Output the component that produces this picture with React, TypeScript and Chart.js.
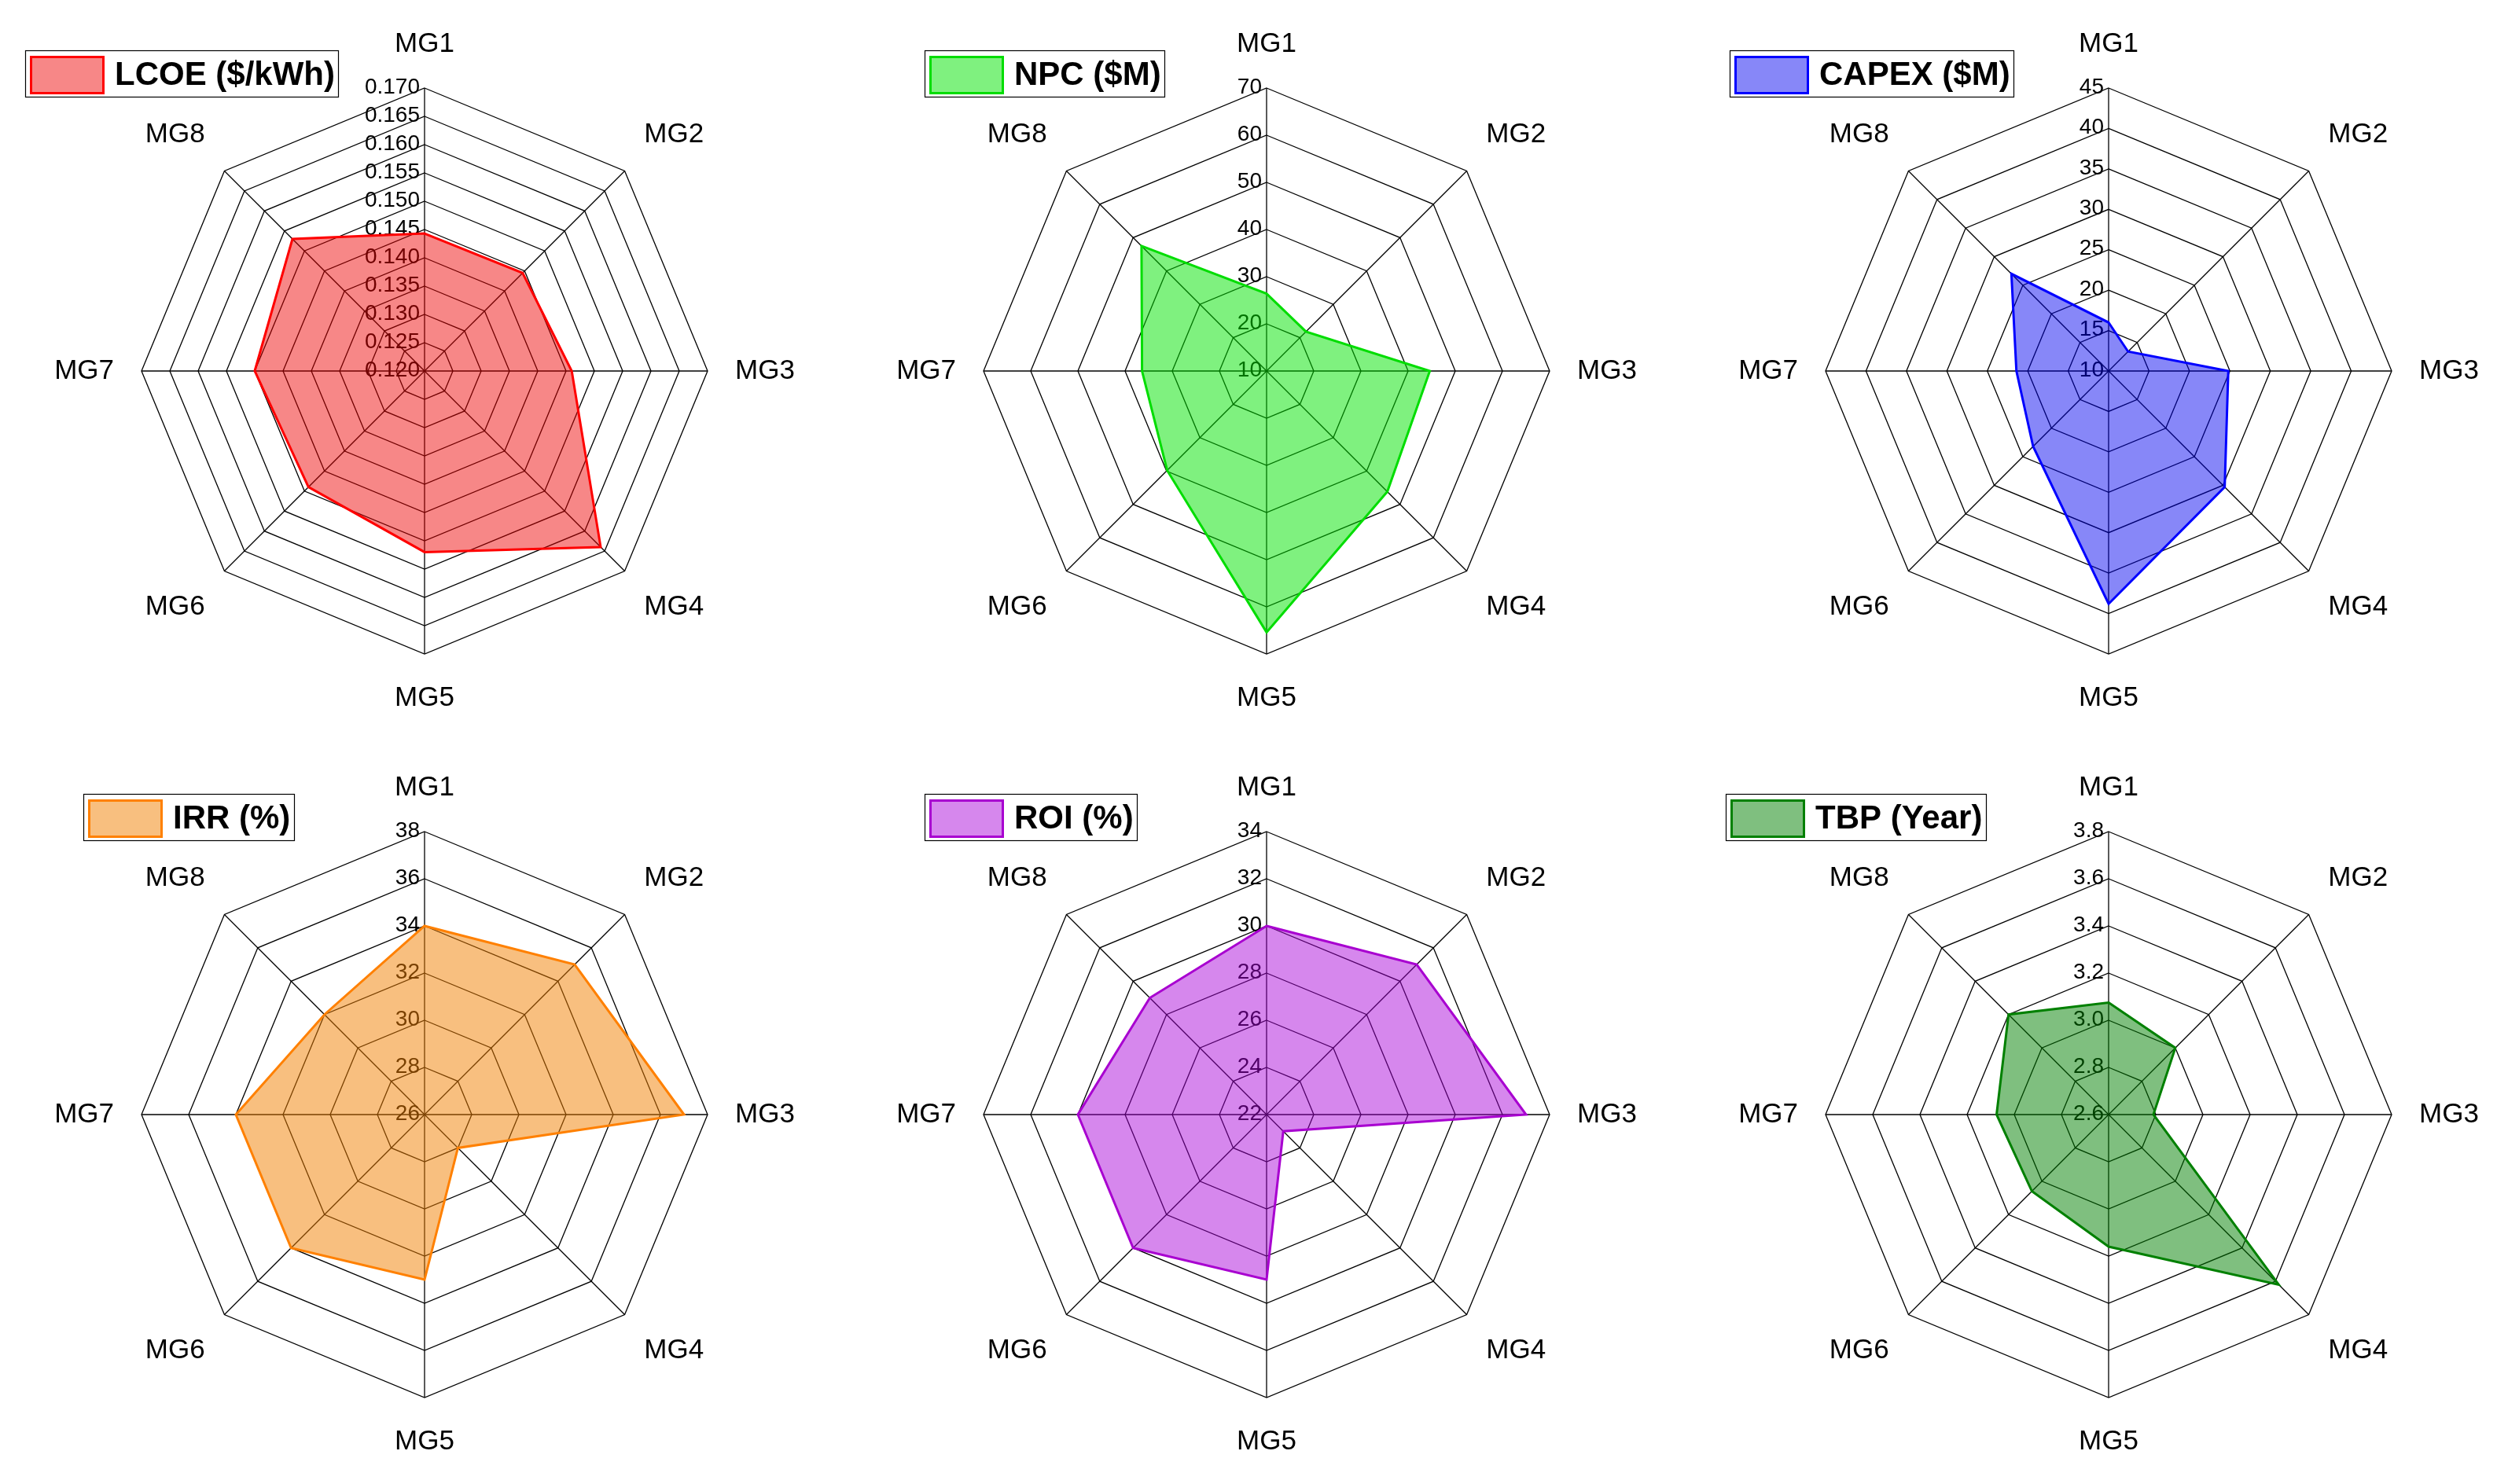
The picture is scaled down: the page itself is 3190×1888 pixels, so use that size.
import React, { useEffect, useRef } from 'react';
import { Chart, registerables } from 'chart.js';

Chart.register(...registerables);

const FONT_FAMILY = "'Liberation Sans', Arial, sans-serif";
Chart.defaults.font.family = FONT_FAMILY;

// ---------- data ----------
const CATEGORIES = ['MG1', 'MG2', 'MG3', 'MG4', 'MG5', 'MG6', 'MG7', 'MG8'];

const LCOE = [0.1443, 0.1445, 0.146, 0.164, 0.152, 0.149, 0.15, 0.153];
const NPC = [26.4, 21.8, 44.6, 46.2, 65.4, 39.8, 36.4, 47.5];
const CAPEX = [16.0, 13.4, 24.8, 30.3, 38.8, 23.2, 21.4, 27.0];
const IRR = [34, 35, 37, 28, 33, 34, 34, 32];
const ROI = [30, 31, 33, 23, 29, 30, 30, 29];
const TBP = [3.075, 3.0, 2.79, 3.62, 3.16, 3.06, 3.075, 3.2];

const SERIES_LABELS = ['LCOE ($/kWh)', 'NPC ($M)', 'CAPEX ($M)', 'IRR (%)', 'ROI (%)', 'TBP (Year)'];

// axis ranges: [min, max, step]
const LCOE_AXIS = [0.12, 0.17, 0.005];
const NPC_AXIS = [10, 70, 10];
const CAPEX_AXIS = [10, 45, 5];
const IRR_AXIS = [26, 38, 2];
const ROI_AXIS = [22, 34, 2];
const TBP_AXIS = [2.6, 3.8, 0.2];

const TICK_DECIMALS = [3, 0, 0, 0, 0, 1];

// ---------- styles / layout ----------
const FILLS = [
  'rgba(238,0,0,0.47)',
  'rgba(0,228,0,0.5)',
  'rgba(0,0,240,0.47)',
  'rgba(242,128,0,0.5)',
  'rgba(168,0,216,0.47)',
  'rgba(0,128,0,0.5)',
];
const BORDERS = ['#ff0000', '#00dd00', '#0000ff', '#ff8000', '#a800d0', '#008000'];

const COL_X = [540, 1611, 2682];
const ROW_Y = [472, 1418];
const CANVAS_W = 1071;
const CANVAS_H = 874;
const LEGEND_DX = [-502, -429, -476, -428, -429, -481];
const LEGEND_DY = -401;

const sideTicksPlugin = {
  id: 'sideTicks',
  beforeDatasetsDraw(chart: any) {
    const s = chart.scales.r;
    const ctx = chart.ctx;
    ctx.save();
    ctx.font = `28px ${FONT_FAMILY}`;
    ctx.fillStyle = '#000';
    ctx.textAlign = 'right';
    ctx.textBaseline = 'middle';
    s.ticks.forEach((t: any) => {
      const d = s.getDistanceFromCenterForValue(t.value);
      ctx.fillText(t.label, s.xCenter - 6, s.yCenter - d - 1);
    });
    ctx.restore();
  },
};

const boxLegendPlugin = {
  id: 'boxLegend',
  afterDraw(chart: any, _args: any, opts: any) {
    const s = chart.scales.r;
    const ds = chart.data.datasets[0];
    const ctx = chart.ctx;
    const x0 = s.xCenter + opts.dx;
    const y0 = s.yCenter + opts.dy;
    const bw = 95;
    const bh = 49;
    ctx.save();
    ctx.fillStyle = ds.backgroundColor;
    ctx.fillRect(x0, y0, bw, bh);
    ctx.lineWidth = 3;
    ctx.strokeStyle = ds.borderColor;
    ctx.strokeRect(x0 + 1.5, y0 + 1.5, bw - 3, bh - 3);
    ctx.font = `bold 42px ${FONT_FAMILY}`;
    ctx.fillStyle = '#000';
    ctx.textAlign = 'left';
    ctx.textBaseline = 'middle';
    const tx = x0 + bw + 13;
    ctx.fillText(ds.label, tx, y0 + bh / 2 + 1);
    const tw = ctx.measureText(ds.label).width;
    ctx.lineWidth = 1.2;
    ctx.strokeStyle = '#000';
    const bx = Math.round(x0 - 6) + 0.5;
    const by = Math.round(y0 - 7) + 0.5;
    ctx.strokeRect(bx, by, Math.round(tx + tw + 5 - bx), Math.round(bh + 10));
    ctx.restore();
  },
};

type PanelCfg = {
  label: string;
  data: number[];
  axis: number[];
  decimals: number;
  fill: string;
  border: string;
  legendDx: number;
  cx: number;
  cy: number;
};

const PANELS: PanelCfg[] = [
  { label: SERIES_LABELS[0], data: LCOE, axis: LCOE_AXIS, decimals: TICK_DECIMALS[0], fill: FILLS[0], border: BORDERS[0], legendDx: LEGEND_DX[0], cx: COL_X[0], cy: ROW_Y[0] },
  { label: SERIES_LABELS[1], data: NPC, axis: NPC_AXIS, decimals: TICK_DECIMALS[1], fill: FILLS[1], border: BORDERS[1], legendDx: LEGEND_DX[1], cx: COL_X[1], cy: ROW_Y[0] },
  { label: SERIES_LABELS[2], data: CAPEX, axis: CAPEX_AXIS, decimals: TICK_DECIMALS[2], fill: FILLS[2], border: BORDERS[2], legendDx: LEGEND_DX[2], cx: COL_X[2], cy: ROW_Y[0] },
  { label: SERIES_LABELS[3], data: IRR, axis: IRR_AXIS, decimals: TICK_DECIMALS[3], fill: FILLS[3], border: BORDERS[3], legendDx: LEGEND_DX[3], cx: COL_X[0], cy: ROW_Y[1] },
  { label: SERIES_LABELS[4], data: ROI, axis: ROI_AXIS, decimals: TICK_DECIMALS[4], fill: FILLS[4], border: BORDERS[4], legendDx: LEGEND_DX[4], cx: COL_X[1], cy: ROW_Y[1] },
  { label: SERIES_LABELS[5], data: TBP, axis: TBP_AXIS, decimals: TICK_DECIMALS[5], fill: FILLS[5], border: BORDERS[5], legendDx: LEGEND_DX[5], cx: COL_X[2], cy: ROW_Y[1] },
];

function RadarPanel({ cfg }: { cfg: PanelCfg }) {
  const ref = useRef<HTMLCanvasElement | null>(null);
  useEffect(() => {
    if (!ref.current) return;
    const [min, max, step] = cfg.axis;
    const chart = new Chart(ref.current, {
      type: 'radar',
      data: {
        labels: CATEGORIES,
        datasets: [
          {
            label: cfg.label,
            data: cfg.data,
            backgroundColor: cfg.fill,
            borderColor: cfg.border,
            borderWidth: 3,
            fill: true,
            pointRadius: 0,
            pointHoverRadius: 0,
            tension: 0,
          } as any,
        ],
      },
      options: {
        responsive: false,
        animation: false,
        devicePixelRatio: 1,
        layout: { padding: 0 },
        plugins: {
          legend: { display: false },
          tooltip: { enabled: false },
          boxLegend: { dx: cfg.legendDx, dy: LEGEND_DY },
        } as any,
        elements: { line: { borderJoinStyle: 'miter' } },
        scales: {
          r: {
            min,
            max,
            ticks: {
              display: false,
              stepSize: step,
              callback: (v: any) => Number(v).toFixed(cfg.decimals),
            },
            grid: { color: '#000', lineWidth: 1.3 },
            angleLines: { color: '#000', lineWidth: 1.3 },
            pointLabels: {
              color: '#000',
              padding: 35,
              font: { size: 35, family: FONT_FAMILY },
            },
          },
        },
      } as any,
      plugins: [sideTicksPlugin, boxLegendPlugin],
    });
    return () => chart.destroy();
  }, [cfg]);
  return (
    <canvas
      ref={ref}
      width={CANVAS_W}
      height={CANVAS_H}
      style={{
        position: 'absolute',
        left: cfg.cx - Math.floor(CANVAS_W / 2),
        top: cfg.cy - Math.floor(CANVAS_H / 2),
        width: CANVAS_W,
        height: CANVAS_H,
      }}
    />
  );
}

export default function App() {
  return (
    <div
      style={{
        position: 'absolute',
        left: 0,
        top: 0,
        width: 3190,
        height: 1888,
        overflow: 'hidden',
        background: '#ffffff',
      }}
    >
      {PANELS.map((p, i) => (
        <RadarPanel key={i} cfg={p} />
      ))}
    </div>
  );
}
